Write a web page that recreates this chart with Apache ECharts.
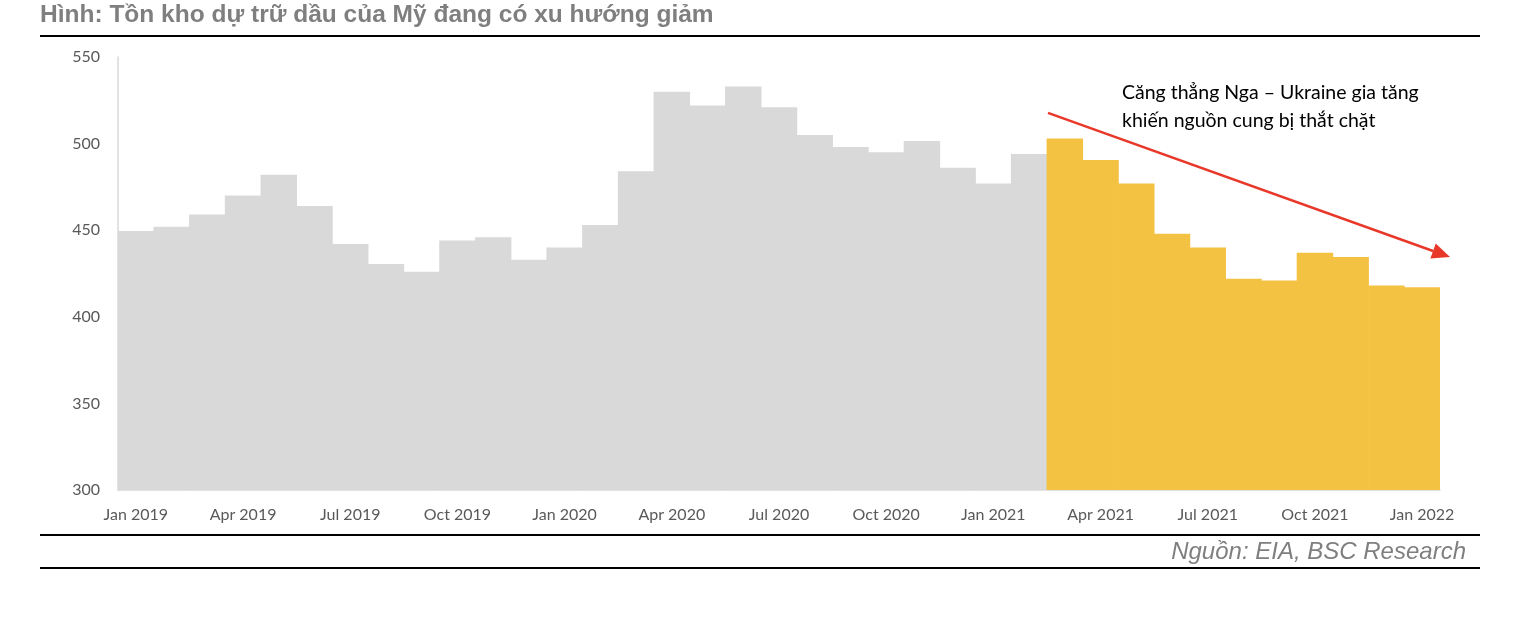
<!DOCTYPE html>
<html>
<head>
<meta charset="UTF-8">
<title>Tồn kho dự trữ dầu của Mỹ</title>
<script src="https://cdn.jsdelivr.net/npm/echarts@6/dist/echarts.min.js"></script>
<style>
  html, body { margin: 0; padding: 0; background: #fff; }
  #chart { width: 1524px; height: 622px; }
</style>
</head>
<body>
<div id="chart"></div>
<script>
// thang du lieu (trieu thung)
var months = ['Jan 2019','Feb 2019','Mar 2019','Apr 2019','May 2019','Jun 2019','Jul 2019','Aug 2019','Sep 2019','Oct 2019','Nov 2019','Dec 2019',
  'Jan 2020','Feb 2020','Mar 2020','Apr 2020','May 2020','Jun 2020','Jul 2020','Aug 2020','Sep 2020','Oct 2020','Nov 2020','Dec 2020',
  'Jan 2021','Feb 2021','Mar 2021','Apr 2021','May 2021','Jun 2021','Jul 2021','Aug 2021','Sep 2021','Oct 2021','Nov 2021','Dec 2021',
  'Jan 2022'];
// truoc khi cang thang (xam)
var grayValues = [449.5, 452, 459, 470, 482, 464, 442, 430.5, 426, 444, 446, 433,
  440, 453, 484, 530, 522, 533, 521, 505, 498, 495, 501.5, 486, 477, 494];
// tu thang 3/2021 (vang)
var yellowValues = [503, 490.5, 477, 448, 440, 422, 421, 437, 434.5, 418, 417];
var yTicks = [300, 350, 400, 450, 500, 550];

var titleText = 'Hình: Tồn kho dự trữ dầu của Mỹ đang có xu hướng giảm';
var sourceText = 'Nguồn: EIA, BSC Research';
var noteLines = ['Căng thẳng Nga – Ukraine gia tăng', 'khiến nguồn cung bị thắt chặt'];

var grayData = [], yellowData = [];
for (var i = 0; i < months.length; i++) {
  if (i < grayValues.length) {
    grayData.push(grayValues[i]);
    yellowData.push('-');
  } else {
    grayData.push('-');
    yellowData.push(yellowValues[i - grayValues.length]);
  }
}

var myChart = echarts.init(document.getElementById('chart'));
myChart.setOption({
  animation: false,
  grid: { left: 118, right: 84, top: 57, bottom: 132 },
  xAxis: {
    type: 'category',
    data: months,
    boundaryGap: true,
    axisLine: { lineStyle: { color: '#d9d9d9', width: 1.5 } },
    axisTick: { interval: 2, length: 6, lineStyle: { color: '#d9d9d9', width: 1.5 } },
    axisLabel: {
      interval: 2, color: '#595959', fontSize: 16,
      fontFamily: 'Lato', margin: 17
    }
  },
  yAxis: {
    type: 'value',
    min: yTicks[0], max: yTicks[yTicks.length - 1], interval: 50,
    axisLine: { show: true, lineStyle: { color: '#d9d9d9', width: 1.5 } },
    axisTick: { show: false },
    splitLine: { show: false },
    axisLabel: { color: '#595959', fontSize: 16, fontFamily: 'Lato', margin: 18 }
  },
  series: [{
    type: 'bar',
    data: grayData,
    barWidth: '102%',
    barGap: '-100%',
    itemStyle: { color: '#d9d9d9' }
  }, {
    type: 'bar',
    data: yellowData,
    barWidth: '102%',
    barGap: '-100%',
    itemStyle: { color: '#f4c242' }
  }]
});

// mui ten do: tinh vi tri tu truc du lieu
var p25 = myChart.convertToPixel({ xAxisIndex: 0 }, 25);
var p26 = myChart.convertToPixel({ xAxisIndex: 0 }, 26);
var band = p26 - p25;
var pLast = myChart.convertToPixel({ xAxisIndex: 0 }, months.length - 1);
var x1 = p25 + band / 2 + 1, y1 = myChart.convertToPixel({ yAxisIndex: 0 }, 517.7);
var x2 = pLast + band * 0.78, y2 = myChart.convertToPixel({ yAxisIndex: 0 }, 434.5);
var ang = Math.atan2(y2 - y1, x2 - x1);
var headLen = 18, headW = 8;
var bx = x2 - headLen * Math.cos(ang), by = y2 - headLen * Math.sin(ang);
var nx = -Math.sin(ang) * headW, ny = Math.cos(ang) * headW;

myChart.setOption({
  graphic: [
    { type: 'text', left: 40, top: 3,
      style: { text: titleText, fill: '#7f7f7f', font: 'bold 24.5px "Liberation Sans", Arial' } },
    { type: 'rect', shape: { x: 40, y: 35, width: 1440, height: 2 }, style: { fill: '#000' } },
    { type: 'rect', shape: { x: 40, y: 534, width: 1440, height: 2 }, style: { fill: '#000' } },
    { type: 'rect', shape: { x: 40, y: 567, width: 1440, height: 2 }, style: { fill: '#000' } },
    { type: 'text', x: 1466, y: 552,
      style: { text: sourceText, fill: '#7f7f7f', font: 'italic 24px "Liberation Sans", Arial',
        align: 'right', verticalAlign: 'middle' } },
    { type: 'text', x: 1122, y: 79,
      style: { text: noteLines.join('\n'), fill: '#000', font: '19.5px Lato', lineHeight: 28 } },
    { type: 'line', shape: { x1: x1, y1: y1, x2: bx, y2: by },
      style: { stroke: '#e8382a', lineWidth: 2.5 } },
    { type: 'polygon', shape: { points: [[x2, y2], [bx + nx, by + ny], [bx - nx, by - ny]] },
      style: { fill: '#e8382a' } }
  ]
});
</script>
</body>
</html>
